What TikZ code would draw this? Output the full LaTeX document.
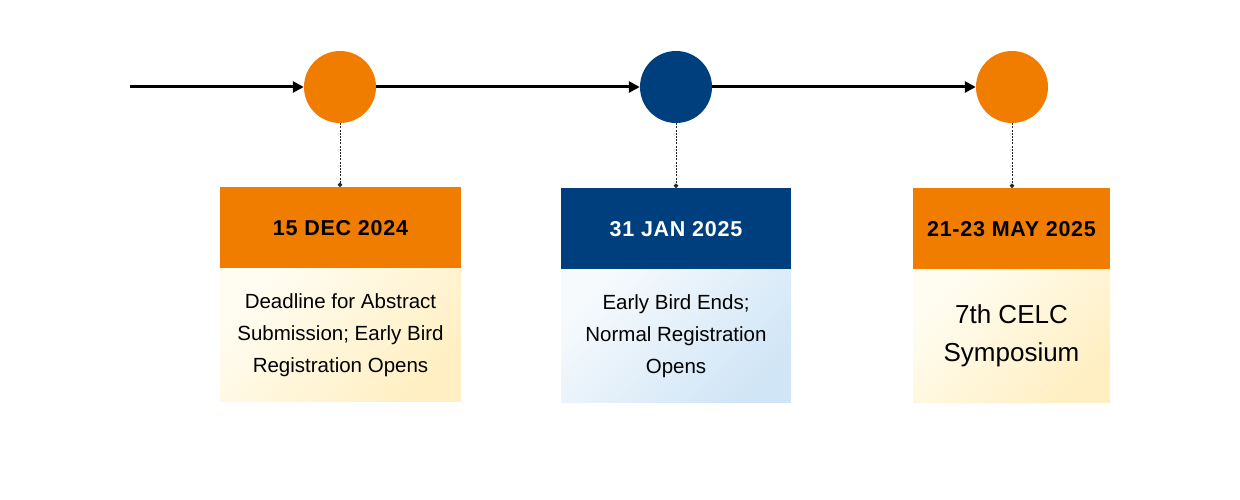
\documentclass[tikz,border=0pt]{standalone}
\usepackage{fontspec}
\setmainfont{Liberation Sans}
\usetikzlibrary{arrows.meta}
\definecolor{corange}{HTML}{F07C00}
\definecolor{cnavy}{HTML}{003F7D}
\definecolor{creamA}{HTML}{FFFDF2}
\definecolor{creamB}{HTML}{FFEFC2}
\definecolor{blueA}{HTML}{F6FAFD}
\definecolor{blueB}{HTML}{D0E5F6}
\begin{document}
\begin{tikzpicture}[x=1pt,y=-1pt,
 milestone/.style={circle,inner sep=0pt,minimum size=72pt,draw=none},
 header/.style={rectangle,inner sep=0pt,minimum height=81pt,anchor=north,font=\fontsize{21.5}{25}\selectfont\bfseries\addfontfeature{LetterSpace=3.5}},
 body/.style={rectangle,inner sep=0pt,minimum height=133pt,anchor=north,align=center,font=\fontsize{20.5}{32}\selectfont},
 link/.style={line width=3pt,-{Triangle[length=11pt,width=11pt]}},
 drop/.style={draw=black!85,line width=1pt,dash pattern=on 2pt off 1.2pt,-{Circle[length=4.5pt]}}]
\useasboundingbox (0,0) rectangle (1240,500);
\coordinate (s) at (130,87);
\node[milestone,fill=corange] (c1) at (340,87) {};
\node[milestone,fill=cnavy] (c2) at (676,87) {};
\node[milestone,fill=corange] (c3) at (1012,87) {};
\node[header,fill=corange,minimum width=241pt,text=black] (h1) at (340.5,187) {15 DEC 2024};
\node[header,fill=cnavy,minimum width=230pt,text=white] (h2) at (676,188) {31 JAN 2025};
\node[header,fill=corange,minimum width=197pt,text=black] (h3) at (1011.5,188) {21-23 MAY 2025};
\node[body,minimum width=241pt,top color=creamA,bottom color=creamB,shading angle=45] (b1) at (h1.south) {Deadline for Abstract\\Submission; Early Bird\\Registration Opens};
\node[body,minimum width=230pt,top color=blueA,bottom color=blueB,shading angle=45] (b2) at (h2.south) {Early Bird Ends;\\Normal Registration\\Opens};
\node[body,minimum width=197pt,top color=creamA,bottom color=creamB,shading angle=45,font=\fontsize{26}{38}\selectfont] (b3) at (h3.south) {7th CELC\\Symposium};
\draw[link] (s) -- (c1);
\draw[link] (c1) -- (c2);
\draw[link] (c2) -- (c3);
\draw[drop] (c1.south) -- (c1.south |- h1.north);
\draw[drop] (c2.south) -- (c2.south |- h2.north);
\draw[drop] (c3.south) -- (c3.south |- h3.north);
\end{tikzpicture}
\end{document}
